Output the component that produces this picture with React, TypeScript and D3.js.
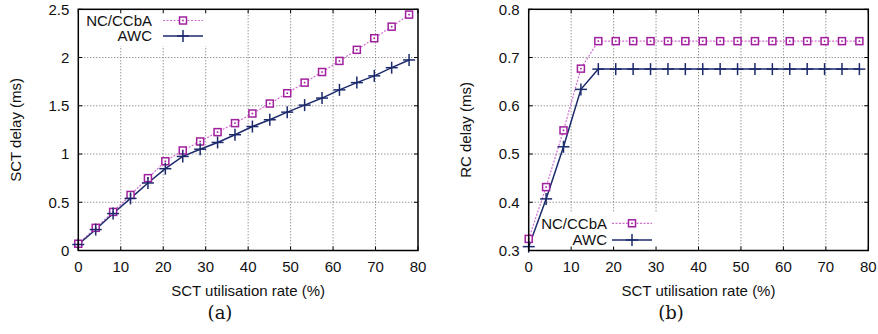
import React from "react";
import * as d3 from "d3";

const xValues = [0, 4.1, 8.2, 12.3, 16.4, 20.5, 24.6, 28.7, 32.8, 36.9, 41, 45.1, 49.2, 53.3, 57.4, 61.5, 65.6, 69.7, 73.8, 77.9];

const sctNC = [0.07, 0.235, 0.4, 0.576, 0.75, 0.925, 1.037, 1.13, 1.227, 1.32, 1.42, 1.523, 1.63, 1.74, 1.85, 1.965, 2.08, 2.2, 2.32, 2.445];
const sctAWC = [0.062, 0.217, 0.383, 0.54, 0.7, 0.848, 0.975, 1.05, 1.12, 1.2, 1.285, 1.355, 1.434, 1.507, 1.58, 1.665, 1.74, 1.81, 1.895, 1.975];

const rcNC = [0.324, 0.4315, 0.549, 0.677, 0.734, 0.734, 0.734, 0.734, 0.734, 0.734, 0.734, 0.734, 0.734, 0.734, 0.734, 0.734, 0.734, 0.734, 0.734, 0.734];
const rcAWC = [0.308, 0.407, 0.515, 0.634, 0.676, 0.676, 0.676, 0.676, 0.676, 0.676, 0.676, 0.676, 0.676, 0.676, 0.676, 0.676, 0.676, 0.676, 0.676, 0.676];

const xTicks = [0, 10, 20, 30, 40, 50, 60, 70, 80];
const sctTicks = [0, 0.5, 1, 1.5, 2, 2.5];
const sctTickLabels = ["0", "0.5", "1", "1.5", "2", "2.5"];
const rcTicks = [0.3, 0.4, 0.5, 0.6, 0.7, 0.8];
const rcTickLabels = ["0.3", "0.4", "0.5", "0.6", "0.7", "0.8"];

const seriesNames = ["NC/CCbA", "AWC"];
const xTitle = "SCT utilisation rate (%)";

const NC_MARK = "#a0209e";
const NC_LINE = "#cf6fcf";
const AWC_COL = "#1c2a6c";
const FONT = "'Liberation Sans', Arial, sans-serif";

function Square({ x, y }: { x: number; y: number }) {
  return (
    <g>
      <rect x={x - 3.5} y={y - 3.5} width={7} height={7} fill="white" stroke={NC_MARK} strokeWidth={1.5} />
      <rect x={x - 0.8} y={y - 0.8} width={1.6} height={1.6} fill={NC_MARK} />
    </g>
  );
}

function Plus({ x, y }: { x: number; y: number }) {
  return (
    <g stroke={AWC_COL} strokeWidth={1.5}>
      <line x1={x - 6} x2={x + 6} y1={y} y2={y} />
      <line x1={x} x2={x} y1={y - 6} y2={y + 6} />
    </g>
  );
}

type PanelProps = {
  x0: number;
  x1: number;
  yDomain: [number, number];
  yTicks: number[];
  yTickLabels: string[];
  nc: number[];
  awc: number[];
  yTitle: string;
  yTitleX: number;
  caption: string;
  captionX: number;
  legend: { textX: number; y1: number; y2: number; lx0: number; lx1: number; box: [number, number, number, number] };
};

function Panel(p: PanelProps) {
  const yTop = 9.3;
  const yBot = 250.5;
  const xs = d3.scaleLinear().domain([0, 80]).range([p.x0, p.x1]);
  const ys = d3.scaleLinear().domain(p.yDomain).range([yBot, yTop]);
  const line = d3
    .line<number>()
    .x((_, i) => xs(xValues[i]))
    .y((d) => ys(d));
  const [bx, by, bw, bh] = p.legend.box;
  const lmid = (p.legend.lx0 + p.legend.lx1) / 2;
  return (
    <g>
      {/* grid */}
      <g stroke="#6a6a6a" strokeWidth={1} strokeDasharray="1,2">
        {xTicks.slice(1, -1).map((t) => (
          <line key={"gx" + t} x1={xs(t)} x2={xs(t)} y1={yTop} y2={yBot} />
        ))}
        {p.yTicks.slice(1, -1).map((t) => (
          <line key={"gy" + t} x1={p.x0} x2={p.x1} y1={ys(t)} y2={ys(t)} />
        ))}
      </g>
      {/* legend background */}
      <rect x={bx} y={by} width={bw} height={bh} fill="white" />
      {/* ticks */}
      <g stroke="black" strokeWidth={1}>
        {xTicks.map((t) => (
          <g key={"tx" + t}>
            <line x1={xs(t)} x2={xs(t)} y1={yBot} y2={yBot - 4} />
            <line x1={xs(t)} x2={xs(t)} y1={yTop} y2={yTop + 4} />
          </g>
        ))}
        {p.yTicks.map((t) => (
          <g key={"ty" + t}>
            <line x1={p.x0} x2={p.x0 + 4} y1={ys(t)} y2={ys(t)} />
            <line x1={p.x1} x2={p.x1 - 4} y1={ys(t)} y2={ys(t)} />
          </g>
        ))}
      </g>
      {/* series */}
      <path d={line(p.nc) || ""} fill="none" stroke={NC_LINE} strokeWidth={1.2} strokeDasharray="2,1.5" />
      <path d={line(p.awc) || ""} fill="none" stroke={AWC_COL} strokeWidth={1.5} />
      {p.nc.map((v, i) => (
        <Square key={"s" + i} x={xs(xValues[i])} y={ys(v)} />
      ))}
      {p.awc.map((v, i) => (
        <Plus key={"p" + i} x={xs(xValues[i])} y={ys(v)} />
      ))}
      {/* frame */}
      <rect x={p.x0} y={yTop} width={p.x1 - p.x0} height={yBot - yTop} fill="none" stroke="black" strokeWidth={1.5} />
      {/* tick labels */}
      <g fontFamily={FONT} fontSize={15} fill="#111">
        {xTicks.map((t) => (
          <text key={"lx" + t} x={xs(t)} y={272} textAnchor="middle">
            {String(t)}
          </text>
        ))}
        {p.yTicks.map((t, i) => (
          <text key={"ly" + t} x={p.x0 - 9} y={ys(t) + 5.4} textAnchor="end">
            {p.yTickLabels[i]}
          </text>
        ))}
        <text x={(p.x0 + p.x1) / 2} y={295.5} textAnchor="middle">
          {xTitle}
        </text>
        <text transform={`translate(${p.yTitleX},${(yTop + yBot) / 2}) rotate(-90)`} textAnchor="middle">
          {p.yTitle}
        </text>
        {/* legend */}
        <text x={p.legend.textX} y={p.legend.y1 + 5.4} textAnchor="end">
          {seriesNames[0]}
        </text>
        <text x={p.legend.textX} y={p.legend.y2 + 5.4} textAnchor="end">
          {seriesNames[1]}
        </text>
      </g>
      <line x1={p.legend.lx0} x2={p.legend.lx1} y1={p.legend.y1} y2={p.legend.y1} stroke={NC_LINE} strokeWidth={1.2} strokeDasharray="2,1.5" />
      <Square x={lmid} y={p.legend.y1} />
      <line x1={p.legend.lx0} x2={p.legend.lx1} y1={p.legend.y2} y2={p.legend.y2} stroke={AWC_COL} strokeWidth={1.5} />
      <Plus x={lmid} y={p.legend.y2} />
      <text x={p.captionX} y={319} textAnchor="middle" fontFamily="'DejaVu Serif', 'Liberation Serif', serif" fontSize={18} fill="#111">
        {p.caption}
      </text>
    </g>
  );
}

export default function App() {
  return (
    <svg width={878} height={334} style={{ position: "absolute", left: 0, top: 0, background: "white" }}>
      <rect width={878} height={334} fill="white" />
      <Panel
        x0={78.3}
        x1={418}
        yDomain={[0, 2.5]}
        yTicks={sctTicks}
        yTickLabels={sctTickLabels}
        nc={sctNC}
        awc={sctAWC}
        yTitle="SCT delay (ms)"
        yTitleX={21}
        caption="(a)"
        captionX={220}
        legend={{ textX: 152, y1: 20.5, y2: 36, lx0: 163, lx1: 203, box: [79, 10, 135, 36] }}
      />
      <Panel
        x0={528.7}
        x1={868.3}
        yDomain={[0.3, 0.8]}
        yTicks={rcTicks}
        yTickLabels={rcTickLabels}
        nc={rcNC}
        awc={rcAWC}
        yTitle="RC delay (ms)"
        yTitleX={471}
        caption="(b)"
        captionX={671}
        legend={{ textX: 607, y1: 223.3, y2: 240, lx0: 612, lx1: 652, box: [529.5, 212, 135, 38] }}
      />
    </svg>
  );
}
